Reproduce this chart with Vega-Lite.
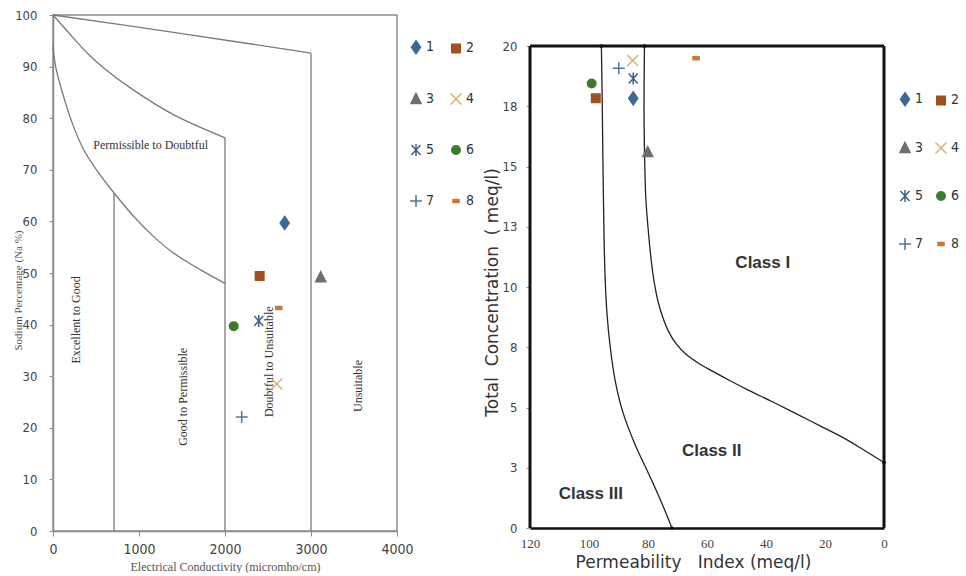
{
  "$schema": "https://vega.github.io/schema/vega-lite/v6.json",
  "background": "white",
  "padding": {"left": 11, "top": 8, "right": 0, "bottom": 0},
  "config": {
    "view": {"stroke": null},
    "font": "Liberation Sans",
    "concat": {"spacing": 7},
    "legend": {
      "title": null,
      "columns": 2,
      "direction": "horizontal",
      "symbolSize": 100,
      "symbolStrokeWidth": 1.5,
      "labelFont": "Liberation Sans Narrow, DejaVu Sans Condensed, Liberation Sans",
      "labelFontSize": 14,
      "labelColor": "#333333",
      "labelOffset": 3
    }
  },
  "datasets": {
    "wilcox_curves": [
      {"curve": "A", "i": 0, "ec": 0, "na": 100},
      {"curve": "A", "i": 1, "ec": 1500, "na": 96.4},
      {"curve": "A", "i": 2, "ec": 3000, "na": 92.6},
      {"curve": "B", "i": 0, "ec": 0, "na": 100},
      {"curve": "B", "i": 1, "ec": 170, "na": 96.8},
      {"curve": "B", "i": 2, "ec": 400, "na": 92.6},
      {"curve": "B", "i": 3, "ec": 600, "na": 89.6},
      {"curve": "B", "i": 4, "ec": 950, "na": 85.3},
      {"curve": "B", "i": 5, "ec": 1400, "na": 80.7},
      {"curve": "B", "i": 6, "ec": 2000, "na": 76.2},
      {"curve": "C", "i": 0, "ec": 0, "na": 93.9},
      {"curve": "C", "i": 1, "ec": 31, "na": 90},
      {"curve": "C", "i": 2, "ec": 90, "na": 86.1},
      {"curve": "C", "i": 3, "ec": 225, "na": 79},
      {"curve": "C", "i": 4, "ec": 360, "na": 73.8},
      {"curve": "C", "i": 5, "ec": 535, "na": 69.3},
      {"curve": "C", "i": 6, "ec": 710, "na": 65.5},
      {"curve": "C", "i": 7, "ec": 942, "na": 60.9},
      {"curve": "C", "i": 8, "ec": 1174, "na": 57},
      {"curve": "C", "i": 9, "ec": 1407, "na": 53.8},
      {"curve": "C", "i": 10, "ec": 1717, "na": 50.6},
      {"curve": "C", "i": 11, "ec": 2000, "na": 48},
      {"curve": "V1", "i": 0, "ec": 3000, "na": 92.6},
      {"curve": "V1", "i": 1, "ec": 3000, "na": 0},
      {"curve": "V2", "i": 0, "ec": 2000, "na": 76.2},
      {"curve": "V2", "i": 1, "ec": 2000, "na": 0},
      {"curve": "V3", "i": 0, "ec": 710, "na": 65.5},
      {"curve": "V3", "i": 1, "ec": 710, "na": 0}
    ],
    "wilcox_zone_h": [
      {"zone": "Permissible to Doubtful", "ec": 1136, "na": 74.8}
    ],
    "wilcox_zone_v": [
      {"zone": "Excellent to Good", "ec": 264, "na": 40.9},
      {"zone": "Good to Permissible", "ec": 1510, "na": 26},
      {"zone": "Doubtful to Unsuitable", "ec": 2512, "na": 32.8},
      {"zone": "Unsuitable", "ec": 3542, "na": 28.1}
    ],
    "wilcox_pts": [
      {"n": "1", "ec": 2694, "na": 59.7},
      {"n": "2", "ec": 2403, "na": 49.4},
      {"n": "3", "ec": 3113, "na": 49.2},
      {"n": "4", "ec": 2601, "na": 28.5},
      {"n": "5", "ec": 2392, "na": 40.7},
      {"n": "6", "ec": 2101, "na": 39.7},
      {"n": "7", "ec": 2194, "na": 22.1},
      {"n": "8", "ec": 2625, "na": 43.2}
    ],
    "doneen_frame": [
      {"side": "left", "pi": 120, "pi2": 120, "tc": 0, "tc2": 20},
      {"side": "right", "pi": 0, "pi2": 0, "tc": 0, "tc2": 20},
      {"side": "top", "pi": 120, "pi2": 0, "tc": 20, "tc2": 20}
    ],
    "doneen_curves": [
      {"curve": "A", "i": 0, "pi": 95.8, "tc": 20},
      {"curve": "A", "i": 1, "pi": 95.5, "tc": 17.5},
      {"curve": "A", "i": 2, "pi": 95.1, "tc": 13.6},
      {"curve": "A", "i": 3, "pi": 94.6, "tc": 10.6},
      {"curve": "A", "i": 4, "pi": 93.9, "tc": 8.9},
      {"curve": "A", "i": 5, "pi": 92.8, "tc": 7.5},
      {"curve": "A", "i": 6, "pi": 91.1, "tc": 6.1},
      {"curve": "A", "i": 7, "pi": 88.5, "tc": 4.8},
      {"curve": "A", "i": 8, "pi": 84.5, "tc": 3.5},
      {"curve": "A", "i": 9, "pi": 79.2, "tc": 2.1},
      {"curve": "A", "i": 10, "pi": 75.2, "tc": 1},
      {"curve": "A", "i": 11, "pi": 71.9, "tc": 0},
      {"curve": "B", "i": 0, "pi": 81.2, "tc": 20},
      {"curve": "B", "i": 1, "pi": 81.35, "tc": 17.5},
      {"curve": "B", "i": 2, "pi": 81.2, "tc": 15.7},
      {"curve": "B", "i": 3, "pi": 81.0, "tc": 14.6},
      {"curve": "B", "i": 4, "pi": 80.7, "tc": 13.6},
      {"curve": "B", "i": 5, "pi": 79.8, "tc": 12.2},
      {"curve": "B", "i": 6, "pi": 78.9, "tc": 11.1},
      {"curve": "B", "i": 7, "pi": 77.9, "tc": 10.2},
      {"curve": "B", "i": 8, "pi": 76.6, "tc": 9.4},
      {"curve": "B", "i": 9, "pi": 75, "tc": 8.75},
      {"curve": "B", "i": 10, "pi": 73, "tc": 8.15},
      {"curve": "B", "i": 11, "pi": 70.5, "tc": 7.65},
      {"curve": "B", "i": 12, "pi": 67, "tc": 7.2},
      {"curve": "B", "i": 13, "pi": 63, "tc": 6.85},
      {"curve": "B", "i": 14, "pi": 58, "tc": 6.5},
      {"curve": "B", "i": 15, "pi": 52, "tc": 6.1},
      {"curve": "B", "i": 16, "pi": 46, "tc": 5.72},
      {"curve": "B", "i": 17, "pi": 38, "tc": 5.25},
      {"curve": "B", "i": 18, "pi": 30, "tc": 4.76},
      {"curve": "B", "i": 19, "pi": 22, "tc": 4.26},
      {"curve": "B", "i": 20, "pi": 14, "tc": 3.76},
      {"curve": "B", "i": 21, "pi": 7, "tc": 3.25},
      {"curve": "B", "i": 22, "pi": 0, "tc": 2.72}
    ],
    "doneen_nodes": [
      {"pi": 95.8, "tc": 20},
      {"pi": 81.2, "tc": 20},
      {"pi": 71.9, "tc": 0},
      {"pi": 0, "tc": 2.72}
    ],
    "doneen_labels": [
      {"cls": "Class I", "pi": 41.1, "tc": 11},
      {"cls": "Class II", "pi": 58.4, "tc": 3.2},
      {"cls": "Class III", "pi": 99.4, "tc": 1.42}
    ],
    "doneen_pts": [
      {"n": "1", "pi": 85.0, "tc": 17.83},
      {"n": "2", "pi": 97.7, "tc": 17.83},
      {"n": "3", "pi": 80.1, "tc": 15.6},
      {"n": "4", "pi": 85.2, "tc": 19.4},
      {"n": "5", "pi": 85.0, "tc": 18.65},
      {"n": "6", "pi": 99.1, "tc": 18.45},
      {"n": "7", "pi": 89.9, "tc": 19.08},
      {"n": "8", "pi": 63.7, "tc": 19.5}
    ]
  },
  "resolve": {
    "scale": {"fill": "independent", "stroke": "independent", "shape": "independent"},
    "legend": {"fill": "independent", "stroke": "independent", "shape": "independent"}
  },
  "hconcat": [
    {
      "width": 344,
      "height": 516,
      "view": {"stroke": "#8c8c8c", "strokeWidth": 1.5},
      "layer": [
        {
          "data": {"name": "wilcox_curves"},
          "mark": {"type": "line", "color": "#7a7a7a", "strokeWidth": 1.3, "interpolate": "catmull-rom"},
          "encoding": {
            "x": {
              "field": "ec", "type": "quantitative",
              "scale": {"domain": [0, 4000], "nice": false},
              "axis": {
                "values": [0, 1000, 2000, 3000, 4000],
                "format": "d",
                "labelFlush": false,
                "title": "Electrical Conductivity (micromho/cm)",
                "titleFont": "Liberation Serif", "titleFontSize": 12, "titleFontWeight": "normal", "titleColor": "#555555",
                "titlePadding": 5,
                "labelFont": "Liberation Sans Narrow, DejaVu Sans Condensed, Liberation Sans", "labelFontSize": 14, "labelColor": "#444444",
                "labelPadding": 6, "tickSize": 5, "tickColor": "#8c8c8c", "domainColor": "#8c8c8c", "domainWidth": 1.5, "grid": false
              }
            },
            "y": {
              "field": "na", "type": "quantitative",
              "scale": {"domain": [0, 100], "nice": false},
              "axis": {
                "values": [0, 10, 20, 30, 40, 50, 60, 70, 80, 90, 100],
                "title": "Sodium Percentage (Na %)",
                "titleFont": "Liberation Serif", "titleFontSize": 11, "titleFontWeight": "normal", "titleColor": "#555555",
                "titleX": -35, "titleY": 275, "titleBaseline": "middle", "titleAngle": 270,
                "labelFont": "Liberation Sans Narrow, DejaVu Sans Condensed, Liberation Sans", "labelFontSize": 13, "labelColor": "#444444",
                "labelPadding": 12, "tickSize": 4, "tickColor": "#8c8c8c", "domainColor": "#8c8c8c", "domainWidth": 1.5, "grid": false
              }
            },
            "detail": {"field": "curve"},
            "order": {"field": "i", "type": "quantitative"}
          }
        },
        {
          "data": {"name": "wilcox_zone_h"},
          "mark": {"type": "text", "font": "Liberation Serif", "fontSize": 12, "color": "#333333", "align": "center", "baseline": "middle"},
          "encoding": {
            "x": {"field": "ec", "type": "quantitative"},
            "y": {"field": "na", "type": "quantitative"},
            "text": {"field": "zone"}
          }
        },
        {
          "data": {"name": "wilcox_zone_v"},
          "mark": {"type": "text", "font": "Liberation Serif", "fontSize": 12, "color": "#333333", "align": "center", "baseline": "middle", "angle": 270},
          "encoding": {
            "x": {"field": "ec", "type": "quantitative"},
            "y": {"field": "na", "type": "quantitative"},
            "text": {"field": "zone"}
          }
        },
        {
          "data": {"name": "wilcox_pts"},
          "mark": {"type": "point", "size": 100, "opacity": 1, "strokeWidth": 1.5},
          "encoding": {
            "x": {"field": "ec", "type": "quantitative"},
            "y": {"field": "na", "type": "quantitative"},
            "shape": {
              "field": "n", "type": "nominal",
              "scale": {
                "domain": ["1", "2", "3", "4", "5", "6", "7", "8"],
                "range": [
                  "M0,-1.3L0.9,0L0,1.3L-0.9,0Z",
                  "M-0.85,-0.85L0.85,-0.85L0.85,0.85L-0.85,0.85Z",
                  "M0,-1.1L1,0.9L-1,0.9Z",
                  "M-1.1,-1.1L1.1,1.1M-1.1,1.1L1.1,-1.1",
                  "M-0.9,-1L0.9,1M-0.9,1L0.9,-1M0,-1.2L0,1.2",
                  "M0.85,0A0.85,0.85,0,1,1,-0.85,0A0.85,0.85,0,1,1,0.85,0Z",
                  "M-1.2,0L1.2,0M0,-1.2L0,1.2",
                  "M-0.6,-0.3L0.6,-0.3L0.6,0.3L-0.6,0.3Z"
                ]
              },
              "legend": {"orient": "none", "legendX": 356, "legendY": 25, "rowPadding": 33, "columnPadding": 12}
            },
            "fill": {
              "field": "n", "type": "nominal",
              "scale": {"domain": ["1", "2", "3", "4", "5", "6", "7", "8"], "range": ["#3d6894", "#a0501f", "#6e6e6e", "#d8b26a", "#3e5f8a", "#3e7a2d", "#4c7a9e", "#c8783a"]},
              "legend": {"orient": "none", "legendX": 356, "legendY": 25, "rowPadding": 33, "columnPadding": 12}
            },
            "stroke": {
              "field": "n", "type": "nominal",
              "scale": {"domain": ["1", "2", "3", "4", "5", "6", "7", "8"], "range": ["#3d6894", "#a0501f", "#6e6e6e", "#d8b26a", "#3e5f8a", "#3e7a2d", "#4c7a9e", "#c8783a"]},
              "legend": {"orient": "none", "legendX": 356, "legendY": 25, "rowPadding": 33, "columnPadding": 12}
            }
          }
        }
      ]
    },
    {
      "width": 354,
      "height": 513,
      "layer": [
        {
          "data": {"name": "doneen_frame"},
          "mark": {"type": "rule", "color": "#111111", "strokeWidth": 3},
          "encoding": {
            "x": {"field": "pi", "type": "quantitative"},
            "x2": {"field": "pi2"},
            "y": {"field": "tc", "type": "quantitative"},
            "y2": {"field": "tc2"}
          }
        },
        {
          "data": {"name": "doneen_curves"},
          "mark": {"type": "line", "color": "#222222", "strokeWidth": 1.3, "interpolate": "catmull-rom"},
          "encoding": {
            "x": {
              "field": "pi", "type": "quantitative",
              "scale": {"domain": [0, 120], "nice": false, "reverse": true},
              "axis": {
                "values": [0, 20, 40, 60, 80, 100, 120],
                "labelFlush": false,
                "title": "Permeability\u00a0\u00a0\u00a0Index (meq/l)",
                "titleX": 163,
                "titleFont": "DejaVu Sans", "titleFontSize": 17, "titleFontWeight": "normal", "titleColor": "#333333",
                "titlePadding": 4,
                "labelFont": "Liberation Serif", "labelFontSize": 13, "labelColor": "#444444",
                "labelPadding": 9, "ticks": false, "domainColor": "#111111", "domainWidth": 2.5, "grid": false
              }
            },
            "y": {
              "field": "tc", "type": "quantitative",
              "scale": {"domain": [0, 21.29], "nice": false},
              "axis": {
                "values": [0, 2.5, 5, 7.5, 10, 12.5, 15, 17.5, 20],
                "format": ".0f",
                "title": "Total\u00a0\u00a0Concentration\u00a0\u00a0(\u00a0meq/l)",
                "titleFont": "DejaVu Sans", "titleFontSize": 17, "titleFontWeight": "normal", "titleColor": "#333333",
                "titlePadding": 1, "titleY": 277,
                "labelFont": "Liberation Sans Narrow, DejaVu Sans Condensed, Liberation Sans", "labelFontSize": 13, "labelColor": "#444444",
                "labelPadding": 9, "tickSize": 4, "tickColor": "#999999", "domain": false, "grid": false
              }
            },
            "detail": {"field": "curve"},
            "order": {"field": "i", "type": "quantitative"}
          }
        },
        {
          "data": {"name": "doneen_nodes"},
          "mark": {"type": "point", "filled": true, "size": 14, "color": "#111111", "opacity": 1},
          "encoding": {
            "x": {"field": "pi", "type": "quantitative"},
            "y": {"field": "tc", "type": "quantitative"}
          }
        },
        {
          "data": {"name": "doneen_labels"},
          "mark": {"type": "text", "font": "Liberation Sans", "fontWeight": "bold", "fontSize": 17, "color": "#333333", "align": "center", "baseline": "middle"},
          "encoding": {
            "x": {"field": "pi", "type": "quantitative"},
            "y": {"field": "tc", "type": "quantitative"},
            "text": {"field": "cls"}
          }
        },
        {
          "data": {"name": "doneen_pts"},
          "mark": {"type": "point", "size": 100, "opacity": 1, "strokeWidth": 1.5},
          "encoding": {
            "x": {"field": "pi", "type": "quantitative"},
            "y": {"field": "tc", "type": "quantitative"},
            "shape": {
              "field": "n", "type": "nominal",
              "scale": {
                "domain": ["1", "2", "3", "4", "5", "6", "7", "8"],
                "range": [
                  "M0,-1.3L0.9,0L0,1.3L-0.9,0Z",
                  "M-0.85,-0.85L0.85,-0.85L0.85,0.85L-0.85,0.85Z",
                  "M0,-1.1L1,0.9L-1,0.9Z",
                  "M-1.1,-1.1L1.1,1.1M-1.1,1.1L1.1,-1.1",
                  "M-0.9,-1L0.9,1M-0.9,1L0.9,-1M0,-1.2L0,1.2",
                  "M0.85,0A0.85,0.85,0,1,1,-0.85,0A0.85,0.85,0,1,1,0.85,0Z",
                  "M-1.2,0L1.2,0M0,-1.2L0,1.2",
                  "M-0.6,-0.3L0.6,-0.3L0.6,0.3L-0.6,0.3Z"
                ]
              },
              "legend": {"orient": "none", "legendX": 368, "legendY": 77, "rowPadding": 30, "columnPadding": 8}
            },
            "fill": {
              "field": "n", "type": "nominal",
              "scale": {"domain": ["1", "2", "3", "4", "5", "6", "7", "8"], "range": ["#3d6894", "#a0501f", "#6e6e6e", "#d8b26a", "#3e5f8a", "#3e7a2d", "#4c7a9e", "#c8783a"]},
              "legend": {"orient": "none", "legendX": 368, "legendY": 77, "rowPadding": 30, "columnPadding": 8}
            },
            "stroke": {
              "field": "n", "type": "nominal",
              "scale": {"domain": ["1", "2", "3", "4", "5", "6", "7", "8"], "range": ["#3d6894", "#a0501f", "#6e6e6e", "#d8b26a", "#3e5f8a", "#3e7a2d", "#4c7a9e", "#c8783a"]},
              "legend": {"orient": "none", "legendX": 368, "legendY": 77, "rowPadding": 30, "columnPadding": 8}
            }
          }
        }
      ]
    }
  ]
}
